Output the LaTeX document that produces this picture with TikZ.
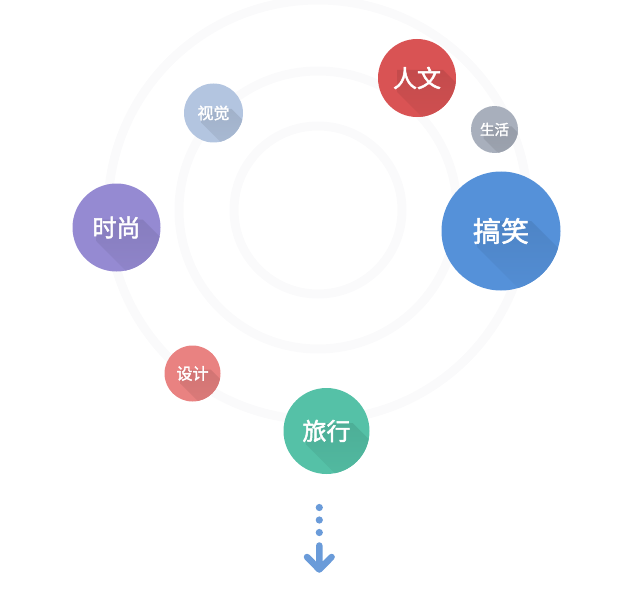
\documentclass[tikz,border=0pt]{standalone}
\usepackage{fontspec}
\newfontfamily\cjk[FakeBold=2]{Noto Sans CJK SC}
\usetikzlibrary{calc}
\definecolor{ringgray}{RGB}{250,250,251}
\definecolor{redbub}{RGB}{217,83,84}
\definecolor{graybub}{RGB}{168,175,188}
\definecolor{bluebub}{RGB}{85,145,217}
\definecolor{purplebub}{RGB}{149,138,210}
\definecolor{palebub}{RGB}{179,197,224}
\definecolor{pinkbub}{RGB}{233,130,129}
\definecolor{greenbub}{RGB}{85,193,167}
\definecolor{arrowblue}{RGB}{106,155,217}

\begin{document}
\begin{tikzpicture}[x=1pt, y=-1pt,
  bubble/.style={circle, inner sep=0pt, text=white},
  longshadow/.style n args={3}{path picture={
    \shade[shading angle=45, top color=#3!87!black, bottom color=#3]
      ($(path picture bounding box.center)+({-#1pt+3pt},{#2pt-3pt})$)
      -- ++({2*#1pt},0pt) -- ++(70pt,-70pt) -- ++(0pt,{-2*#2pt})
      -- ++({-2*#1pt},0pt) -- ++(-70pt,70pt) -- cycle;}}]
  \useasboundingbox (0,0) rectangle (640,615);

  % Rings
  \draw[ringgray, line width=9pt] (318,210) circle (210pt);
  \draw[ringgray, line width=9pt] (318,210) circle (139pt);
  \draw[ringgray, line width=9pt] (318,210) circle (84pt);

  % Bubbles
  \node[bubble, fill=redbub, minimum size=78pt, longshadow={23}{11}{redbub},
    font=\cjk\fontsize{24pt}{24pt}\selectfont] (humanities) at (417,78) {人文};
  \node[bubble, fill=graybub, minimum size=47pt, longshadow={14}{6}{graybub},
    font=\cjk\fontsize{14.5pt}{14.5pt}\selectfont] (life) at (494.5,129.5) {生活};
  \node[bubble, fill=bluebub, minimum size=119pt, longshadow={27}{13}{bluebub},
    font=\cjk\fontsize{28pt}{28pt}\selectfont] (funny) at (501,231) {搞笑};
  \node[bubble, fill=purplebub, minimum size=88pt, longshadow={23}{11}{purplebub},
    font=\cjk\fontsize{24pt}{24pt}\selectfont] (fashion) at (116.5,227.5) {时尚};
  \node[bubble, fill=palebub, minimum size=59pt, longshadow={15}{7}{palebub},
    font=\cjk\fontsize{16pt}{16pt}\selectfont] (visual) at (213.5,113) {视觉};
  \node[bubble, fill=pinkbub, minimum size=56pt, longshadow={15}{7}{pinkbub},
    font=\cjk\fontsize{16pt}{16pt}\selectfont] (design) at (192.5,373.5) {设计};
  \node[bubble, fill=greenbub, minimum size=86pt, longshadow={23}{11}{greenbub},
    font=\cjk\fontsize{24pt}{24pt}\selectfont] (travel) at (326.5,431) {旅行};

  % More arrow
  \fill[arrowblue] (319.3,507.5) circle (3.6pt);
  \fill[arrowblue] (319.3,520) circle (3.6pt);
  \fill[arrowblue] (319.3,532.5) circle (3.6pt);
  \draw[arrowblue, line width=6.5pt, line cap=round, line join=round]
    (319.3,545.5) -- (319.3,569) (307,557) -- (319.3,569.5) -- (331.6,557);
\end{tikzpicture}
\end{document}
